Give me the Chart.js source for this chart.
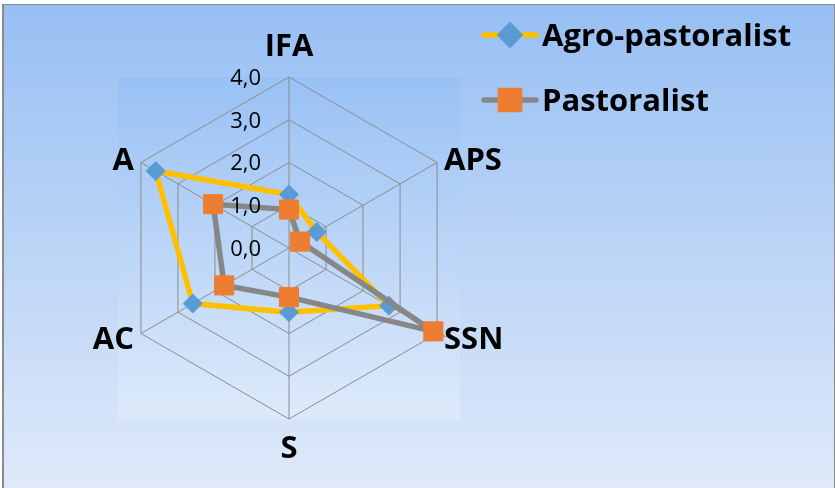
<!DOCTYPE html>
<html>
<head>
<meta charset="utf-8">
<script src="https://cdn.jsdelivr.net/npm/chart.js@4.4.1/dist/chart.umd.min.js"></script>
<style>
  html, body { margin: 0; padding: 0; width: 835px; height: 488px; overflow: hidden; background: #ffffff; }
  #frame {
    position: absolute; left: 2px; top: 4px; width: 830px; height: 490px;
    border-top: 1px solid #8c8c8c; border-left: 2px solid #8c8c8c; border-right: 1px solid #8c8c8c;
    background: linear-gradient(to bottom, rgb(151,191,243), rgb(224,234,249));
  }
  #wrap { position: absolute; left: 0; top: 0; width: 835px; height: 488px; }
</style>
</head>
<body>
<div id="frame"></div>
<div id="wrap"><canvas id="radar" width="835" height="488"></canvas></div>
<script>
// Axis categories and series values
const categories = ['IFA', 'APS', 'SSN', 'S', 'AC', 'A'];
const agroPastoralist = [1.25, 0.75, 2.7, 1.5, 2.6, 3.6];
const pastoralist = [0.9, 0.3, 3.9, 1.15, 1.75, 2.05];
const seriesNames = ['Agro-pastoralist', 'Pastoralist'];
const tickValues = [0, 1, 2, 3, 4];

const LABEL_SIZE = 31;
const TICK_SIZE = 22;
const LABEL_FONT = 'bold ' + LABEL_SIZE + 'px "Open Sans", "Noto Sans", sans-serif';
const TICK_FONT = TICK_SIZE + 'px "Open Sans", "Noto Sans", sans-serif';

// Light gradient behind the plot area
const plotBackground = {
  id: 'plotBackground',
  beforeDraw(chart) {
    const { ctx, chartArea: a } = chart;
    const g = ctx.createLinearGradient(0, a.top, 0, a.bottom);
    g.addColorStop(0, 'rgb(153,193,244)');
    g.addColorStop(1, 'rgb(222,234,250)');
    ctx.save();
    ctx.fillStyle = g;
    ctx.fillRect(a.left, a.top, a.right - a.left, a.bottom - a.top);
    ctx.restore();
  }
};

// Category names at the spoke ends and value labels beside the vertical spoke
const radarText = {
  id: 'radarText',
  afterDraw(chart) {
    const { ctx } = chart;
    const r = chart.scales.r;
    ctx.save();
    ctx.fillStyle = '#000000';

    ctx.font = LABEL_FONT;
    chart.data.labels.forEach((name, i) => {
      const tip = r.getPointPosition(i, r.drawingArea);
      const vertical = Math.abs(tip.x - r.xCenter) < 1;
      let pad = 8;
      if (vertical) pad = tip.y < r.yCenter ? 32 : 28;
      const p = r.getPointPosition(i, r.drawingArea + pad);
      ctx.textAlign = vertical ? 'center' : (p.x > r.xCenter ? 'left' : 'right');
      ctx.textBaseline = 'alphabetic';
      ctx.fillText(name, p.x, p.y + LABEL_SIZE * 0.357);
    });

    ctx.font = TICK_FONT;
    ctx.textAlign = 'right';
    ctx.textBaseline = 'alphabetic';
    tickValues.forEach(v => {
      const y = r.yCenter - r.getDistanceFromCenterForValue(v);
      ctx.fillText(v.toFixed(1).replace('.', ','), r.xCenter - 28, y + TICK_SIZE * 0.357);
    });
    ctx.restore();
  }
};

// Legend: line sample with marker, then the series name
const lineLegend = {
  id: 'lineLegend',
  afterDraw(chart) {
    const { ctx } = chart;
    const rows = [35, 100];
    ctx.save();
    chart.data.datasets.forEach((ds, i) => {
      const y = rows[i];
      ctx.strokeStyle = ds.borderColor;
      ctx.lineWidth = ds.borderWidth;
      ctx.lineCap = 'round';
      ctx.beginPath();
      ctx.moveTo(484, y);
      ctx.lineTo(536, y);
      ctx.stroke();
      ctx.fillStyle = ds.pointBackgroundColor;
      ctx.strokeStyle = ds.pointBorderColor;
      Chart.helpers.drawPoint(ctx, {
        pointStyle: ds.pointStyle,
        radius: ds.pointRadius,
        rotation: 0,
        borderWidth: 1
      }, 510, y);
      ctx.fillStyle = '#000000';
      ctx.font = LABEL_FONT;
      ctx.textAlign = 'left';
      ctx.textBaseline = 'alphabetic';
      ctx.fillText(ds.label, 542, y + LABEL_SIZE * 0.357);
    });
    ctx.restore();
  }
};

new Chart(document.getElementById('radar'), {
  type: 'radar',
  data: {
    labels: categories,
    datasets: [
      {
        label: seriesNames[0],
        data: agroPastoralist,
        borderColor: '#ffc000',
        borderWidth: 5.5,
        backgroundColor: 'rgba(0,0,0,0)',
        fill: false,
        pointStyle: 'rectRot',
        pointRadius: 9.5,
        pointHoverRadius: 9.5,
        pointBackgroundColor: '#5b9bd5',
        pointBorderColor: '#5b9bd5',
        pointBorderWidth: 1,
        tension: 0,
        order: 2
      },
      {
        label: seriesNames[1],
        data: pastoralist,
        borderColor: '#878787',
        borderWidth: 5.5,
        backgroundColor: 'rgba(0,0,0,0)',
        fill: false,
        pointStyle: 'rect',
        pointRadius: 13.5,
        pointHoverRadius: 13.5,
        pointBackgroundColor: '#ed7d31',
        pointBorderColor: '#ed7d31',
        pointBorderWidth: 1,
        tension: 0,
        order: 1
      }
    ]
  },
  options: {
    responsive: false,
    animation: false,
    devicePixelRatio: 1,
    layout: { padding: { left: 118, top: 77, right: 375, bottom: 69 } },
    plugins: {
      legend: { display: false },
      tooltip: { enabled: false }
    },
    scales: {
      r: {
        min: 0,
        max: 4,
        startAngle: 0,
        ticks: { display: false, stepSize: 1 },
        pointLabels: { display: false },
        grid: { color: '#8c8c8c', lineWidth: 1 },
        angleLines: { color: '#8c8c8c', lineWidth: 1 }
      }
    }
  },
  plugins: [plotBackground, radarText, lineLegend]
});
</script>
</body>
</html>
